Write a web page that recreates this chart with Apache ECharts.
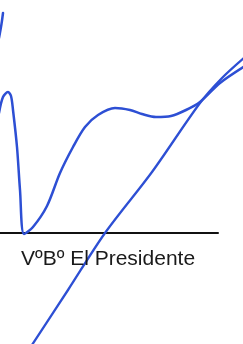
<!DOCTYPE html>
<html>
<head>
<meta charset="utf-8">
<script src="https://cdn.jsdelivr.net/npm/echarts@6/dist/echarts.min.js"></script>
<style>
html,body{margin:0;padding:0;background:#fff;}
#sig{width:243px;height:344px;}
</style>
</head>
<body>
<div id="sig"></div>
<script>
// trazos de la firma (x, y en px de la imagen)
var trazoSuperior = [[3, 13], [1.5, 24], [-1, 38]];
var trazoOnda = [[-1, 113], [3, 97], [8, 92], [11, 96], [13, 110], [17, 147], [20, 190], [24, 234],
  [33, 227], [47, 206], [60, 173], [73, 147], [85, 127], [98, 115], [115, 108],
  [130, 110], [142, 114], [156, 117], [171, 116], [186, 110], [200, 102], [220, 83], [245, 66]];
var trazoDiagonal = [[30, 348], [68, 290], [105, 233], [152, 172], [200, 103], [222, 78], [245, 57]];
var linea = [[0, 233], [218, 233]];
var etiqueta = 'VºBº El Presidente';

var chart = echarts.init(document.getElementById('sig'));
var azul = '#2d4fd4';
function trazo(datos, color, ancho, suave) {
  return {
    type: 'line',
    data: datos,
    smooth: suave,
    showSymbol: false,
    silent: true,
    lineStyle: { color: color, width: ancho, cap: 'round' },
    z: color === azul ? 3 : 2
  };
}
var option = {
  animation: false,
  grid: { left: 0, right: 0, top: 0, bottom: 0 },
  xAxis: { type: 'value', min: 0, max: 243, show: false },
  yAxis: { type: 'value', min: 0, max: 344, inverse: true, show: false },
  title: {
    text: etiqueta,
    left: 16,
    top: 244,
    textStyle: { fontFamily: 'Liberation Sans', fontSize: 21, fontWeight: 'normal', color: '#1a1a1a' }
  },
  series: [
    trazo(linea, '#111', 2, false),
    trazo(trazoSuperior, azul, 2.5, 0.3),
    trazo(trazoOnda, azul, 2.5, 0.3),
    trazo(trazoDiagonal, azul, 2.3, 0.3)
  ]
};
chart.setOption(option);
</script>
</body>
</html>
